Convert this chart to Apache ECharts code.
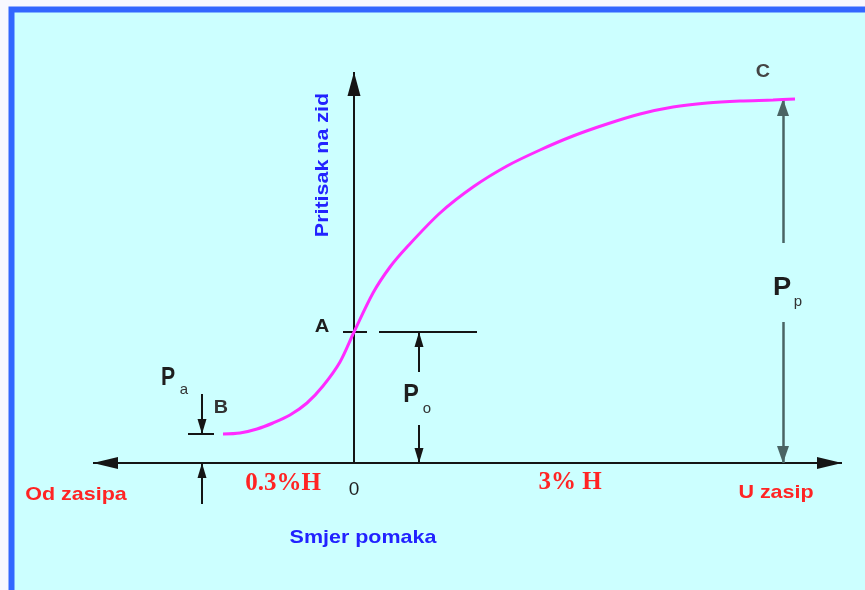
<!DOCTYPE html>
<html><head><meta charset="utf-8">
<script src="https://cdn.jsdelivr.net/npm/echarts@6/dist/echarts.min.js"></script>
<style>html,body{margin:0;padding:0;background:#f8f8ff}#c{width:865px;height:590px}</style>
</head><body><div id="c"></div>
<script>
// Earth pressure on wall (y) vs wall displacement (x), arbitrary units; 0 = at rest
const curveX = [-1.31,-1.14,-0.97,-0.81,-0.64,-0.47,-0.31,-0.14,0,0.19,0.36,0.53,0.86,1.19,1.53,1.86,2.19,2.53,2.86,3.19,3.53,3.86,4.19,4.41];
const curveY = [0.29,0.30,0.34,0.40,0.48,0.60,0.77,1.01,1.31,1.70,1.96,2.16,2.50,2.76,2.97,3.13,3.27,3.39,3.49,3.56,3.60,3.62,3.63,3.64];
const pActive = 0.29;   // Pa (point B)
const pRest = 1.31;     // Po (point A)
const pPassive = 3.64;  // Pp (point C)
const xActive = -1.52;  // position of Pa dimension
const xRest = 0.65;     // position of Po dimension
const xPassive = 4.29;  // position of Pp dimension
const axisXMin = -2.61, axisXMax = 4.88, axisYMax = 3.91;

const chart = echarts.init(document.getElementById('c'), null, {renderer:'canvas'});

function seg(x1,y1,x2,y2,endFrom,endTo){
  const a = {coord:[x1,y1], symbol:'none'};
  const b = {coord:[x2,y2], symbol:'none'};
  if (endFrom) Object.assign(a, {symbol:'triangle', symbolSize:endFrom, symbolOffset:[0,'50%']});
  if (endTo) Object.assign(b, {symbol:'triangle', symbolSize:endTo, symbolOffset:[0,'50%']});
  return [a,b];
}
function ml(data, color, width){
  return {type:'scatter', data:[], silent:true, z:3,
    markLine:{silent:true, animation:false, symbol:['none','none'], label:{show:false},
      lineStyle:{color:color, width:width, type:'solid'}, emphasis:{disabled:true}, data:data}};
}
const bigHead=[13,24], smallHead=[9,15], ppHead=[12,17];

const axes = [
  seg(axisXMin,0,axisXMax,0,[12,25],[12,25]),
  seg(0,0,0,axisYMax,null,bigHead)
];
const dims = [
  seg(-0.11,pRest,0.13,pRest),
  seg(0.25,pRest,1.23,pRest),
  seg(-1.66,pActive,-1.40,pActive),
  seg(xActive,0.69,xActive,pActive,null,smallHead),
  seg(xActive,-0.41,xActive,0,null,smallHead),
  seg(xRest,0.91,xRest,pRest,null,smallHead),
  seg(xRest,0.38,xRest,0,null,smallHead)
];
const ppDims = [
  seg(xPassive,2.20,xPassive,pPassive,null,ppHead),
  seg(xPassive,1.41,xPassive,0,null,ppHead)
];

const sans = 'Arial, "Liberation Sans", sans-serif';
const serif = '"Times New Roman", "Liberation Serif", serif';
function txt(t,x,y,font,color,opt){
  return Object.assign({type:'text', x:x, y:y, z:100, silent:true,
    style:{text:t, font:font, fill:color, textAlign:'center', textVerticalAlign:'middle'}}, opt||{});
}
const red='#ff2424', blue='#2222ff', dark='#1e1e1e';

chart.setOption({
  animation:false,
  backgroundColor:'#f8f8ff',
  grid:{left:0,right:0,top:0,bottom:0},
  xAxis:{type:'value', min:-3.54, max:5.11, show:false},
  yAxis:{type:'value', min:-1.27, max:4.63, show:false},
  graphic:[
    {type:'rect', z:-10, silent:true, shape:{x:11.5,y:9.5,width:900,height:700},
      style:{fill:'#ccffff', stroke:'#3366ff', lineWidth:6}},
    txt('Od zasipa',76,495,'bold 19px '+sans,red,{scaleX:1.13}),
    txt('0.3%H',283,484,'bold 25px '+serif,red),
    txt('0',354,490,'19px '+sans,dark),
    txt('3% H',570,483,'bold 25px '+serif,red),
    txt('U zasip',776,493,'bold 19px '+sans,red,{scaleX:1.13}),
    txt('Smjer pomaka',363,538,'bold 19px '+sans,blue,{scaleX:1.13}),
    txt('Pritisak na zid',323,165,'bold 19px '+sans,blue,{scaleX:1.13, rotation:Math.PI/2}),
    txt('A',322,327,'bold 18px '+sans,dark,{scaleX:1.12}),
    txt('B',221,408,'bold 18px '+sans,'#333',{scaleX:1.1}),
    txt('C',763,72,'bold 18px '+sans,'#444',{scaleX:1.1}),
    txt('P',168,378,'bold 25px '+sans,dark,{scaleX:0.85}),
    txt('a',184,390,'15px '+sans,'#333'),
    txt('P',411,395,'bold 26px '+sans,dark,{scaleX:0.9}),
    txt('o',427,409,'15px '+sans,'#333'),
    txt('P',782,288,'bold 26px '+sans,dark,{scaleX:1.05}),
    txt('p',798,302,'15px '+sans,'#333')
  ],
  series:[
    ml(axes,'#151515',2),
    ml(dims,'#151515',2),
    ml(ppDims,'#4a6464',2.5),
    {type:'line', z:5, silent:true, smooth:0.3, showSymbol:false,
      data: curveX.map((x,i)=>[x,curveY[i]]),
      lineStyle:{color:'#ff2bff', width:3}}
  ]
});
</script></body></html>
